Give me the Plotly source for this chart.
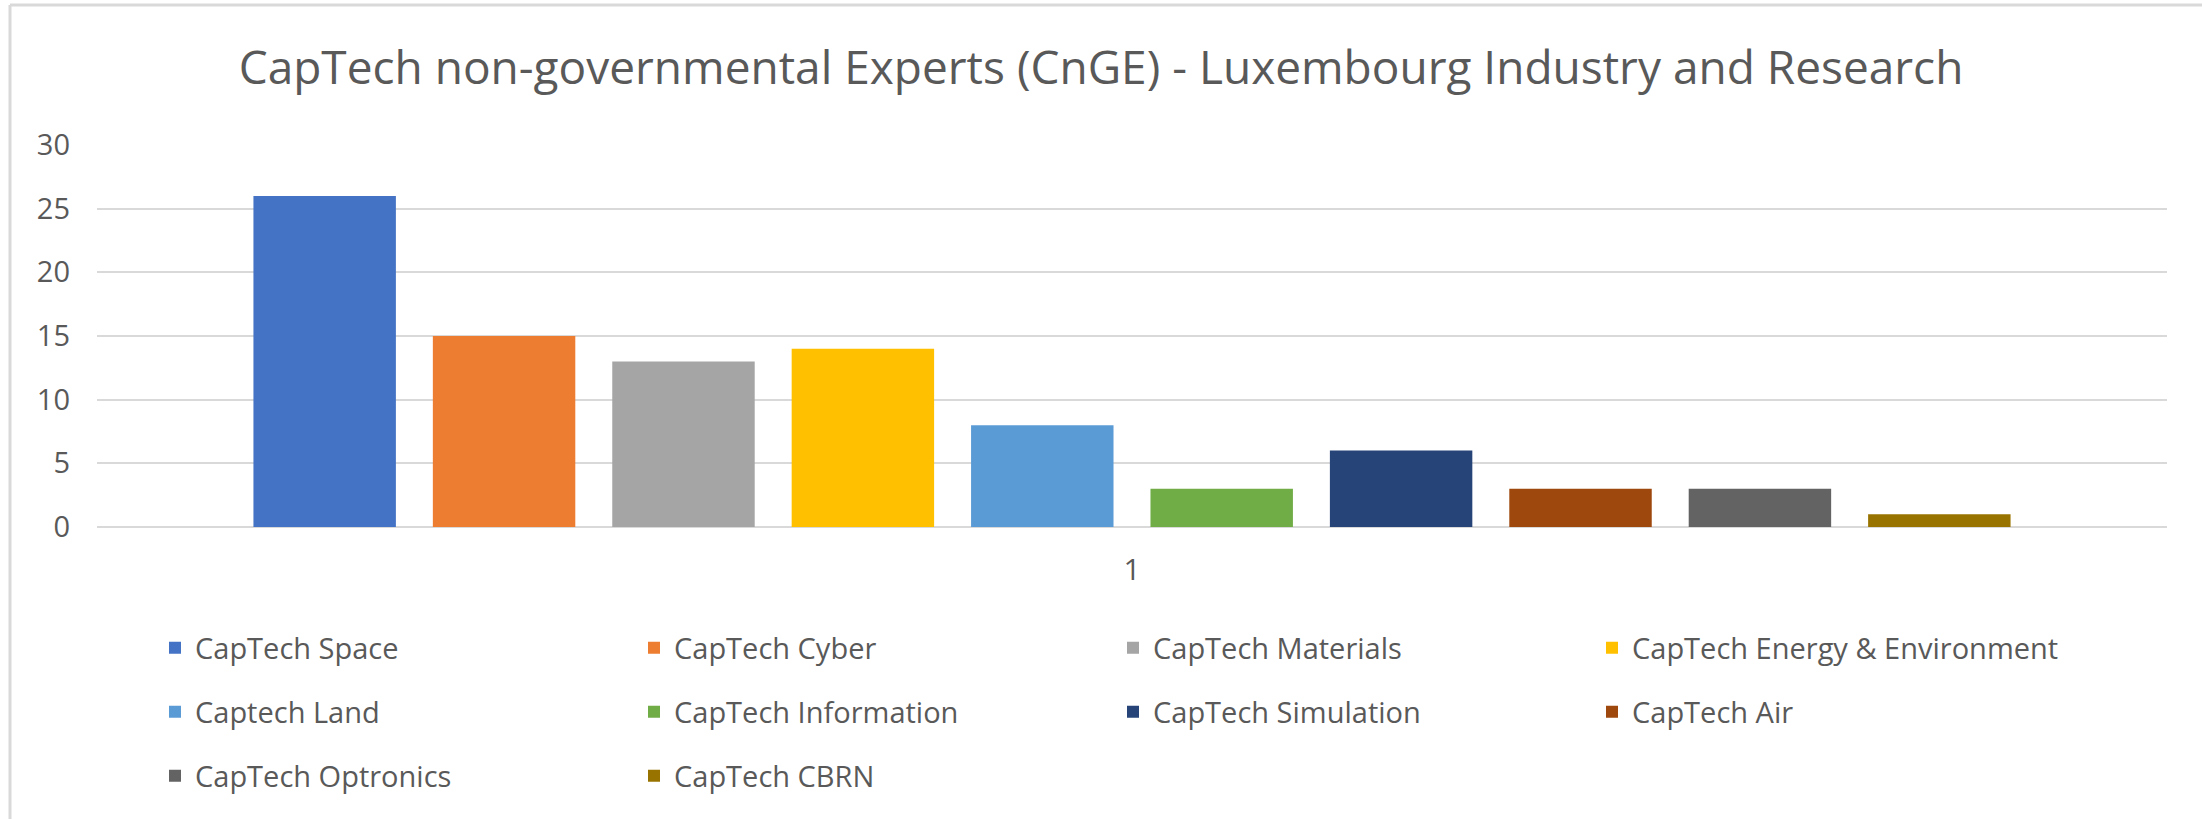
import plotly.graph_objects as go

# ---- data ----
categories = ["1"]
series_names = [
    "CapTech Space", "CapTech Cyber", "CapTech Materials", "CapTech Energy & Environment",
    "Captech Land", "CapTech Information", "CapTech Simulation", "CapTech Air",
    "CapTech Optronics", "CapTech CBRN",
]
series_values = [26, 15, 13, 14, 8, 3, 6, 3, 3, 1]
series_colors = [
    "#4472C4", "#ED7D31", "#A5A5A5", "#FFC000", "#5B9BD5",
    "#70AD47", "#264478", "#9E480E", "#636363", "#997300",
]
y_ticks = [0, 5, 10, 15, 20, 25, 30]
title_text = "CapTech non-governmental Experts (CnGE) - Luxembourg Industry and Research"

W, H = 2202, 819
L, R, T, B = 97, 35, 145, 292
TXT = "#595959"
FONT = "Open Sans, Liberation Sans, sans-serif"

legend_rows = ["legend", "legend2", "legend3"]
row_y_px = [648, 712, 776]

fig = go.Figure()
for i, (name, val, col) in enumerate(zip(series_names, series_values, series_colors)):
    fig.add_trace(go.Bar(
        x=categories, y=[val], name=name,
        marker=dict(color=col, line=dict(width=0)),
        legend=legend_rows[i // 4],
        hoverinfo="name+y",
    ))

pw = W - L - R
ph = H - T - B

def px_to_paper_x(px):
    return (px - L) / pw

def px_to_paper_y(py):
    return (H - B - py) / ph

leg_common = dict(
    orientation="h", xref="container", yref="container",
    x=155 / W, xanchor="left", yanchor="middle",
    entrywidth=434, entrywidthmode="pixels",
    font=dict(family=FONT, size=29, color=TXT),
    bgcolor="rgba(0,0,0,0)", borderwidth=0, itemwidth=30,
    traceorder="normal",
)

layout_legends = {}
for name, ypx in zip(legend_rows, row_y_px):
    d = dict(leg_common)
    d["y"] = 1 - ypx / H
    layout_legends[name] = d

fig.update_layout(
    width=W, height=H,
    margin=dict(l=L, r=R, t=T, b=B, pad=0),
    paper_bgcolor="white", plot_bgcolor="white",
    barmode="group", bargap=0.1333, bargroupgap=0.206,
    showlegend=True,
    title=dict(
        text=title_text, x=0.5, xanchor="center", xref="container",
        y=1 - 68 / H, yref="container", yanchor="middle",
        font=dict(family=FONT, size=46, color=TXT),
    ),
    xaxis=dict(
        type="category", showgrid=False, zeroline=False, showline=False,
        ticks="", ticklabelstandoff=22,
        tickfont=dict(family=FONT, size=30, color=TXT),
    ),
    yaxis=dict(
        range=[0, 30], tickvals=y_ticks, showgrid=True, gridcolor="#D9D9D9", gridwidth=2,
        zeroline=True, zerolinecolor="#D9D9D9", zerolinewidth=2, showline=False,
        ticks="", ticklabelstandoff=26,
        tickfont=dict(family=FONT, size=29, color=TXT),
    ),
    shapes=[
        dict(type="line", xref="paper", yref="paper",
             x0=px_to_paper_x(10), x1=px_to_paper_x(W + 5),
             y0=px_to_paper_y(5), y1=px_to_paper_y(5),
             line=dict(color="#D9D9D9", width=3)),
        dict(type="line", xref="paper", yref="paper",
             x0=px_to_paper_x(10), x1=px_to_paper_x(10),
             y0=px_to_paper_y(5), y1=px_to_paper_y(H + 5),
             line=dict(color="#D9D9D9", width=3)),
    ],
    **layout_legends,
)

fig.write_html("out.html")
